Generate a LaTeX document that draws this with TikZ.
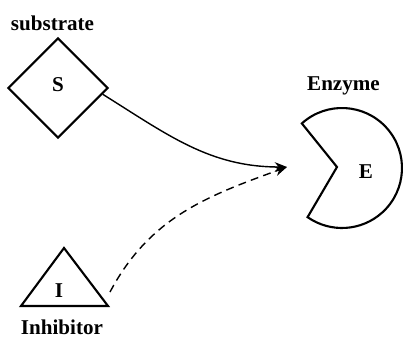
\documentclass[tikz,border=0pt]{standalone}
\usepackage{fontspec}
\setmainfont{Liberation Serif}
\usetikzlibrary{arrows.meta}
\usetikzlibrary{shapes.geometric}

\begin{document}
\begin{tikzpicture}[x=0.02cm, y=0.02cm,
  lbl/.style={font=\bfseries\fontsize{12}{14}\selectfont, anchor=base, inner sep=0},
  shp/.style={black, line width=1.2pt},
  link/.style={black, line width=0.8pt, ->, >={Stealth[length=7pt,width=5.5pt]}}]
\useasboundingbox (0,0) rectangle (403,336);
% substrate
\node[diamond, shp, draw, minimum width=2cm, minimum height=2cm, inner sep=0] (sub) at (58,248) {};
\node[lbl] (S) at (58,245) {S};
\node[lbl] (substrate) at (52.5,306) {substrate};
% enzyme
\coordinate (enz) at (342,168);
\draw[shp] (337,169) -- ([shift={(132:60)}]enz) arc[start angle=132, end angle=-125, radius=60] -- cycle;
\node[lbl] (E) at (366,158) {E};
\node[lbl] (enzyme) at (343.5,246) {Enzyme};
% inhibitor
\draw[shp] (21,30) -- (64,88) -- (108,30) -- cycle;
\node[lbl] (I) at (59,39) {I};
\node[lbl] (inhibitor) at (62,2) {Inhibitor};
% binding
\coordinate (tip) at (287,169);
\coordinate (inh) at (110,44);
\draw[link] (sub.-8) to[out=-32, in=180] (tip);
\draw[link, dash pattern=on 4.5pt off 3pt] (inh) to[out=62, in=200] (tip);
\end{tikzpicture}
\end{document}
